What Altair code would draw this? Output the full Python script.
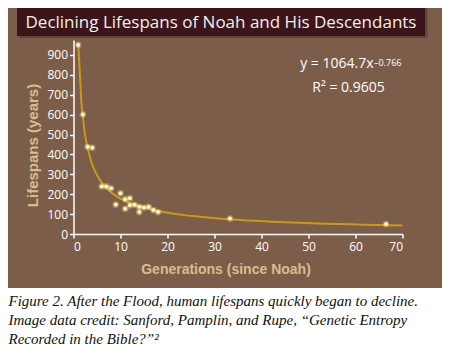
import altair as alt
import pandas as pd

# ---- data ----
generations = [1, 2, 3, 4, 6, 7, 8, 9, 10, 11, 11, 12, 12, 13, 14, 14, 15, 16, 17, 18, 33.3, 66.5]
lifespans = [950, 600, 438, 433, 239, 239, 230, 148, 205, 175, 127, 180, 144, 147, 137, 110, 133, 137, 120, 110, 78, 50]
x_ticks = [0, 10, 20, 30, 40, 50, 60, 70]
y_ticks = [0, 100, 200, 300, 400, 500, 600, 700, 800, 900]

title_text = "Declining Lifespans of Noah and His Descendants"
eq_main = "y = 1064.7x"
eq_sup = "\u20130.766"
r2_text = "R\u00b2 = 0.9605"
caption_lines = [
    "Figure 2. After the Flood, human lifespans quickly began to decline.",
    "Image data credit: Sanford, Pamplin, and Rupe, \u201cGenetic Entropy",
    "Recorded in the Bible?\u201d\u00b2",
]

df = pd.DataFrame({"generation": generations, "lifespan": lifespans})

BROWN = "#7C5D4A"
TAN = "#D9BE8C"
CURVE = "#C9991C"
POINT = "#FFF4B0"
SANS = "Open Sans"
BOLD = "Liberation Sans"

W, H = 329, 194
one = alt.Data(values=[{}])

x_enc = alt.X(
    "generation:Q",
    scale=alt.Scale(domain=[0, 70], nice=False, zero=True),
    axis=alt.Axis(
        values=x_ticks, grid=False, domainColor="white", domainWidth=1.5,
        tickColor="white", tickWidth=1.5, tickSize=4, labelColor="white",
        labelFont=SANS, labelFontSize=12, labelPadding=3,
        title="Generations (since Noah)", titleColor=TAN, titleFont=BOLD,
        titleFontSize=14, titleFontWeight="bold",
        titleX=152, titleY=39, titleBaseline="alphabetic", titleAlign="center",
    ),
)
y_enc = alt.Y(
    "lifespan:Q",
    scale=alt.Scale(domain=[0, 975], nice=False),
    axis=alt.Axis(
        values=y_ticks, grid=False, domainColor="white", domainWidth=1.5,
        tickColor="white", tickWidth=1.5, tickSize=4, labelColor="white",
        labelFont=SANS, labelFontSize=12, labelPadding=2,
        title="Lifespans (years)", titleColor=TAN, titleFont=BOLD,
        titleFontSize=15, titleFontWeight="bold", titleX=-33, titleY=105,
    ),
)

# decorative backgrounds
caption_bg = alt.Chart(one).mark_rect(color="white").encode(
    x=alt.value(-66), x2=alt.value(370), y=alt.value(248), y2=alt.value(310)
)
title_shadow = alt.Chart(one).mark_rect(color="#2a1a12", opacity=0.35).encode(
    x=alt.value(-54), x2=alt.value(354), y=alt.value(-32), y2=alt.value(-2)
)
title_box = alt.Chart(one).mark_rect(color="#3B1519").encode(
    x=alt.value(-56.5), x2=alt.value(351.5), y=alt.value(-34), y2=alt.value(-4)
)
title = alt.Chart(one).mark_text(
    text=title_text, font=SANS, fontSize=17, color="#F6EEEA", align="center", baseline="alphabetic"
).encode(x=alt.value(147.5), y=alt.value(-12))

curve = alt.Chart(df).transform_regression(
    "generation", "lifespan", method="pow", extent=[1, 70]
).mark_line(color=CURVE, strokeWidth=2).encode(x=x_enc, y=y_enc)

halo = alt.Chart(df).mark_circle(color=POINT, opacity=0.3, size=45).encode(x=x_enc, y=y_enc)
points = alt.Chart(df).mark_circle(color=POINT, opacity=1, size=16).encode(x=x_enc, y=y_enc)

eq1 = alt.Chart(one).mark_text(
    text=eq_main, font=SANS, fontSize=14, color="white", align="right", baseline="alphabetic"
).encode(x=alt.value(300), y=alt.value(27.7))
eq2 = alt.Chart(one).mark_text(
    text=eq_sup, font=SANS, fontSize=9, color="white", align="left", baseline="alphabetic"
).encode(x=alt.value(300.5), y=alt.value(25.7))
r2 = alt.Chart(one).mark_text(
    text=r2_text, font=SANS, fontSize=14, color="white", align="center", baseline="alphabetic"
).encode(x=alt.value(275), y=alt.value(52.3))

cap_layers = []
for i, line in enumerate(caption_lines):
    cap_layers.append(
        alt.Chart(one).mark_text(
            text=line, font="Liberation Serif", fontStyle="italic", fontSize=15,
            color="#111111", align="left", baseline="alphabetic"
        ).encode(x=alt.value(-65), y=alt.value([265.5, 285, 303.5][i]))
    )

chart = alt.layer(
    caption_bg, title_shadow, title_box, title, curve, halo, points, eq1, eq2, r2, *cap_layers
).properties(
    width=W, height=H,
    autosize=alt.AutoSizeParams(type="none"),
    padding={"left": 65.5, "top": 32, "right": 39.5, "bottom": 114},
    background=BROWN,
).configure_view(stroke=None, fill=BROWN)

chart.save("out.html", embed_options={"renderer": "svg", "actions": False})
